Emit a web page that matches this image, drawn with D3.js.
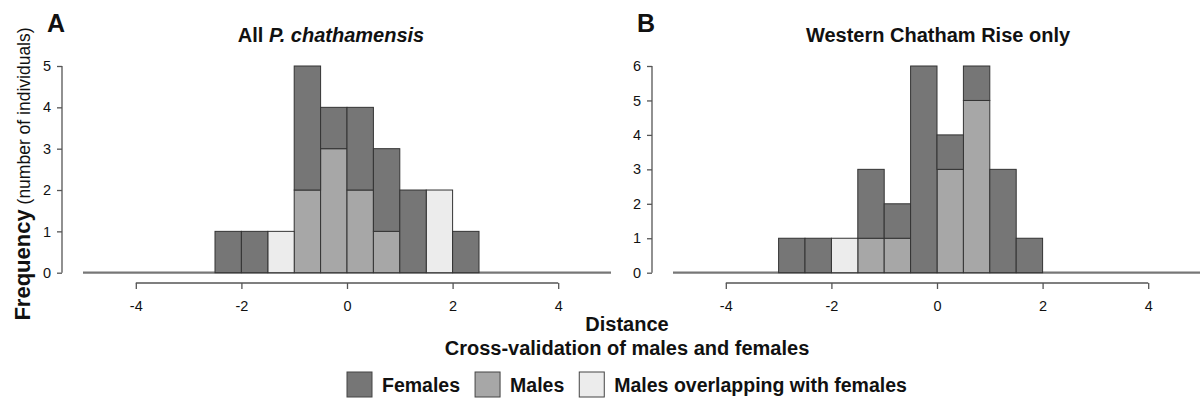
<!DOCTYPE html>
<html>
<head>
<meta charset="utf-8">
<script src="https://cdn.jsdelivr.net/npm/d3@7"></script>
<style>
  body { margin: 0; background: #fff; }
  text { font-family: "Liberation Sans", Arial, Helvetica, sans-serif; fill: #111; }
</style>
</head>
<body>
<div id="chart"></div>
<script>
// histogram bins (left edge, width 0.5)
const binWidth = 0.5;
const binsA = [-2.5, -2, -1.5, -1, -0.5, 0, 0.5, 1, 1.5, 2];
const femalesA = [1, 1, 0, 3, 1, 2, 2, 2, 0, 1];
const malesA = [0, 0, 0, 2, 3, 2, 1, 0, 0, 0];
const overlapA = [0, 0, 1, 0, 0, 0, 0, 0, 2, 0];

const binsB = [-3, -2.5, -2, -1.5, -1, -0.5, 0, 0.5, 1, 1.5];
const femalesB = [1, 1, 0, 2, 1, 6, 1, 1, 3, 1];
const malesB = [0, 0, 0, 1, 1, 0, 3, 5, 0, 0];
const overlapB = [0, 0, 1, 0, 0, 0, 0, 0, 0, 0];

const xTicks = [-4, -2, 0, 2, 4];
const yTicksA = [0, 1, 2, 3, 4, 5];
const yTicksB = [0, 1, 2, 3, 4, 5, 6];

const keys = ["males", "overlap", "females"];
const colors = { females: "#767676", males: "#a7a7a7", overlap: "#ececec" };
const legendItems = [
  { key: "females", label: "Females" },
  { key: "males", label: "Males" },
  { key: "overlap", label: "Males overlapping with females" }
];

const width = 1200, height = 401;
const svg = d3.select("#chart").append("svg")
  .attr("width", width).attr("height", height);
svg.append("rect").attr("width", width).attr("height", height).attr("fill", "#fff");

const yBottom = 272.7, yTop = 66;

function panel(opt) {
  const x = d3.scaleLinear().domain([-5, 5]).range([opt.x0, opt.x0 + 528]);
  const y = d3.scaleLinear().domain([0, opt.ymax]).range([yBottom, yTop]);
  const g = svg.append("g");

  const rows = opt.bins.map((b, i) => ({
    start: b, females: opt.females[i], males: opt.males[i], overlap: opt.overlap[i]
  }));
  const series = d3.stack().keys(keys)(rows);

  g.append("line")
    .attr("x1", x(-5)).attr("x2", x(5))
    .attr("y1", y(0)).attr("y2", y(0))
    .attr("stroke", "#777").attr("stroke-width", 2.2);

  series.forEach(s => {
    g.append("g").selectAll("rect")
      .data(s.filter(d => d[1] > d[0]))
      .join("rect")
      .attr("x", d => x(d.data.start))
      .attr("width", d => x(d.data.start + binWidth) - x(d.data.start))
      .attr("y", d => y(d[1]))
      .attr("height", d => y(d[0]) - y(d[1]))
      .attr("fill", colors[s.key])
      .attr("stroke", "#333")
      .attr("stroke-width", 1);
  });

  // y axis (R style)
  const yAxis = g.append("g")
    .attr("transform", `translate(${x(-5) - 21},0)`)
    .call(d3.axisLeft(y).tickValues(opt.yTicks).tickSize(5).tickPadding(6).tickFormat(d3.format("d")));
  yAxis.select(".domain").attr("d", `M0,${y(0)}V${y(opt.ymax)}`).attr("stroke", "#555").attr("stroke-width", 1.3);
  yAxis.selectAll(".tick line").attr("stroke", "#555").attr("stroke-width", 1.3);
  yAxis.selectAll(".tick text").attr("font-size", 14.5).attr("font-family", null).attr("fill", "#222");

  // x axis
  const xAxis = g.append("g")
    .attr("transform", `translate(0,283)`)
    .call(d3.axisBottom(x).tickValues(xTicks).tickSize(6).tickPadding(12).tickFormat(d3.format("d")));
  xAxis.select(".domain").attr("d", `M${x(-4)},0H${x(4)}`).attr("stroke", "#555").attr("stroke-width", 1.3);
  xAxis.selectAll(".tick line").attr("stroke", "#555").attr("stroke-width", 1.3);
  xAxis.selectAll(".tick text").attr("font-size", 14.5).attr("font-family", null).attr("fill", "#222")
    .text(d => d < 0 ? "-" + Math.abs(d) : d);

  // panel letter
  svg.append("text").attr("x", opt.letterX).attr("y", 32)
    .attr("font-size", 25).attr("font-weight", "bold").text(opt.letter);

  // title
  const t = svg.append("text").attr("x", opt.titleX).attr("y", 42)
    .attr("text-anchor", "middle").attr("font-size", 20).attr("font-weight", "bold");
  opt.title.forEach(p => t.append("tspan").attr("font-style", p.italic ? "italic" : null).text(p.text));
}

panel({ x0: 83, ymax: 5, yTicks: yTicksA, bins: binsA, females: femalesA, males: malesA, overlap: overlapA,
  letter: "A", letterX: 47, titleX: 331,
  title: [{ text: "All " }, { text: "P. chathamensis", italic: true }] });
panel({ x0: 673, ymax: 6, yTicks: yTicksB, bins: binsB, females: femalesB, males: malesB, overlap: overlapB,
  letter: "B", letterX: 637, titleX: 938,
  title: [{ text: "Western Chatham Rise only" }] });

// y label
const yl = svg.append("text").attr("transform", "translate(30,174) rotate(-90)")
  .attr("text-anchor", "middle");
yl.append("tspan").attr("font-size", 22).attr("font-weight", "bold").text("Frequency");
yl.append("tspan").attr("font-size", 17.5).text(" (number of individuals)");

// x labels
svg.append("text").attr("x", 627).attr("y", 331).attr("text-anchor", "middle")
  .attr("font-size", 20).attr("font-weight", "bold").text("Distance");
svg.append("text").attr("x", 627).attr("y", 355).attr("text-anchor", "middle")
  .attr("font-size", 20).attr("font-weight", "bold").text("Cross-validation of males and females");

// legend
const lg = svg.append("g");
let lx = 347;
legendItems.forEach(item => {
  lg.append("rect").attr("x", lx).attr("y", 372).attr("width", 25).attr("height", 25)
    .attr("fill", colors[item.key]).attr("stroke", "#444").attr("stroke-width", 1);
  const tx = lg.append("text").attr("x", lx + 35).attr("y", 391.5)
    .attr("font-size", 19.5).attr("font-weight", "bold").text(item.label);
  lx = lx + 35 + tx.node().getComputedTextLength() + 15;
});
</script>
</body>
</html>
